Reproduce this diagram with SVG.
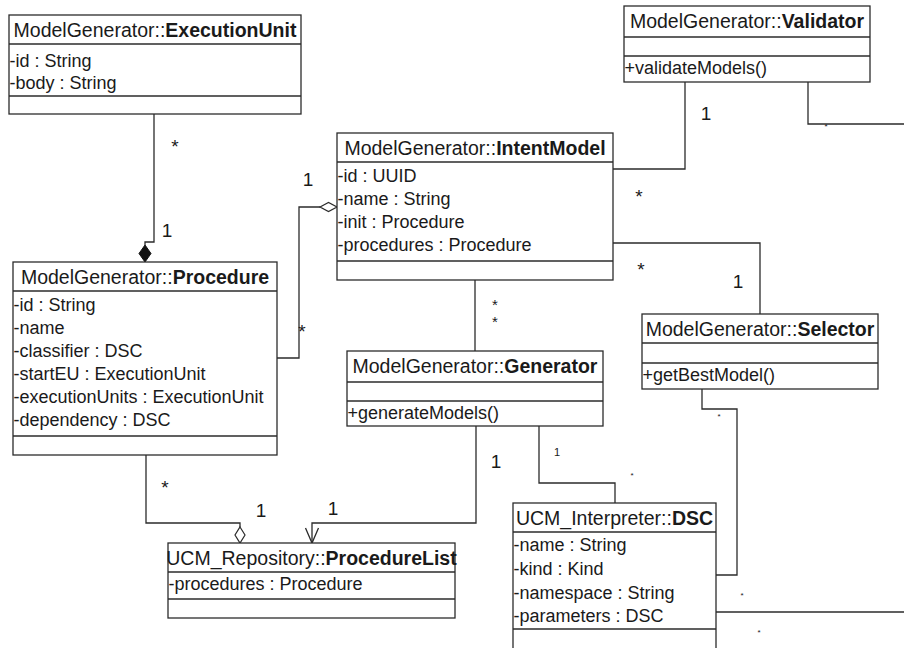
<svg xmlns="http://www.w3.org/2000/svg" width="904" height="648" viewBox="0 0 904 648">
  <style>
    .box { fill: #ffffff; stroke: #2b2b2b; stroke-width: 1.3; }
    .sep { stroke: #2b2b2b; stroke-width: 1.3; fill: none; }
    .wire { stroke: #2b2b2b; stroke-width: 1.3; fill: none; }
    text { font-family: "Liberation Sans", Arial, sans-serif; fill: #1a1a1a; }
    .hdr { font-size: 19.5px; text-anchor: middle; }
    .hdr .b { font-weight: bold; }
    .attr { font-size: 18px; }
    .lbl { font-size: 19px; text-anchor: middle; }
    .star { font-size: 19px; text-anchor: middle; }
    .star2 { font-size: 15px; text-anchor: middle; }
    .small { font-size: 11px; text-anchor: middle; }
    .tiny { font-size: 8px; text-anchor: middle; }
    .hollow { fill: #ffffff; stroke: #2b2b2b; stroke-width: 1.2; }
    .solid { fill: #111111; stroke: #111111; stroke-width: 1; }
  </style>

  <!-- connectors -->
  <g id="connectors">
    <!-- ExecutionUnit to Procedure (composition) -->
    <path class="wire" d="M154 114 V242 H145 V245"/>
    <polygon class="solid" points="145,245 151,253.5 145,262 139,253.5"/>
    <text class="star" x="175" y="153">*</text>
    <text class="lbl" x="167" y="237">1</text>

    <!-- Procedure to IntentModel (aggregation) -->
    <path class="wire" d="M277 358 H299 V207 H320"/>
    <polygon class="hollow" points="320,207 328.5,202.5 337,207 328.5,211.5"/>
    <text class="lbl" x="308" y="186">1</text>
    <text class="star" x="302" y="338">*</text>

    <!-- IntentModel to Validator -->
    <path class="wire" d="M613 169 H685 V82"/>
    <text class="lbl" x="706" y="120">1</text>
    <text class="star" x="639" y="203">*</text>

    <!-- IntentModel to Selector -->
    <path class="wire" d="M613 243 H760 V314"/>
    <text class="star" x="641" y="276">*</text>
    <text class="lbl" x="738" y="288">1</text>

    <!-- IntentModel to Generator -->
    <path class="wire" d="M475 280 V351"/>
    <text class="star2" x="495" y="310">*</text>
    <text class="star2" x="495" y="327">*</text>

    <!-- Generator to ProcedureList (navigable) -->
    <path class="wire" d="M476 426 V523 H312 V543"/>
    <path class="wire" d="M305.5 528 L312 543 L318.5 528"/>
    <text class="lbl" x="496" y="468">1</text>
    <text class="lbl" x="333" y="515">1</text>

    <!-- Procedure to ProcedureList (aggregation) -->
    <path class="wire" d="M146 455 V523 H240 V527"/>
    <polygon class="hollow" points="240,527 245,535 240,543 235,535"/>
    <text class="star" x="165" y="494">*</text>
    <text class="lbl" x="261" y="517">1</text>

    <!-- Generator to DSC -->
    <path class="wire" d="M539 426 V483 H615 V503"/>
    <text class="small" x="557" y="456">1</text>
    <text class="tiny" x="632" y="478">*</text>

    <!-- Selector to DSC -->
    <path class="wire" d="M702 389 V409 H737 V575 H716"/>
    <text class="tiny" x="719" y="419">*</text>

    <!-- Validator, outgoing -->
    <path class="wire" d="M808 82 V124 H904"/>
    <text class="tiny" x="826" y="129">*</text>

    <!-- DSC, outgoing -->
    <path class="wire" d="M716 612 H904"/>
    <text class="tiny" x="742" y="598">*</text>
    <text class="tiny" x="759" y="635">*</text>
  </g>

  <!-- ExecutionUnit -->
  <g id="execution-unit">
    <rect class="box" x="9" y="15" width="292" height="99"/>
    <line class="sep" x1="9" y1="44" x2="301" y2="44"/>
    <line class="sep" x1="9" y1="96" x2="301" y2="96"/>
    <text class="hdr" x="155" y="37">ModelGenerator::<tspan class="b">ExecutionUnit</tspan></text>
    <text class="attr" x="9.5" y="67">-id : String</text>
    <text class="attr" x="9.5" y="89">-body : String</text>
  </g>

  <!-- Validator -->
  <g id="validator">
    <rect class="box" x="624" y="6" width="246" height="76"/>
    <line class="sep" x1="624" y1="37" x2="870" y2="37"/>
    <line class="sep" x1="624" y1="56" x2="870" y2="56"/>
    <text class="hdr" x="747" y="28">ModelGenerator::<tspan class="b">Validator</tspan></text>
    <text class="attr" x="624.5" y="74">+validateModels()</text>
  </g>

  <!-- IntentModel -->
  <g id="intent-model">
    <rect class="box" x="337" y="133" width="276" height="147"/>
    <line class="sep" x1="337" y1="162" x2="613" y2="162"/>
    <line class="sep" x1="337" y1="261" x2="613" y2="261"/>
    <text class="hdr" x="475" y="155">ModelGenerator::<tspan class="b">IntentModel</tspan></text>
    <text class="attr" x="337.5" y="182">-id : UUID</text>
    <text class="attr" x="337.5" y="205">-name : String</text>
    <text class="attr" x="337.5" y="228">-init : Procedure</text>
    <text class="attr" x="337.5" y="251">-procedures : Procedure</text>
  </g>

  <!-- Procedure -->
  <g id="procedure">
    <rect class="box" x="13" y="262" width="264" height="193"/>
    <line class="sep" x1="13" y1="291" x2="277" y2="291"/>
    <line class="sep" x1="13" y1="436" x2="277" y2="436"/>
    <text class="hdr" x="145" y="284">ModelGenerator::<tspan class="b">Procedure</tspan></text>
    <text class="attr" x="13.5" y="311">-id : String</text>
    <text class="attr" x="13.5" y="334">-name</text>
    <text class="attr" x="13.5" y="357">-classifier : DSC</text>
    <text class="attr" x="13.5" y="380">-startEU : ExecutionUnit</text>
    <text class="attr" x="13.5" y="403">-executionUnits : ExecutionUnit</text>
    <text class="attr" x="13.5" y="426">-dependency : DSC</text>
  </g>

  <!-- Generator -->
  <g id="generator">
    <rect class="box" x="347" y="351" width="256" height="75"/>
    <line class="sep" x1="347" y1="382" x2="603" y2="382"/>
    <line class="sep" x1="347" y1="401" x2="603" y2="401"/>
    <text class="hdr" x="475" y="373">ModelGenerator::<tspan class="b">Generator</tspan></text>
    <text class="attr" x="347.5" y="419">+generateModels()</text>
  </g>

  <!-- Selector -->
  <g id="selector">
    <rect class="box" x="642" y="314" width="236" height="75"/>
    <line class="sep" x1="642" y1="343" x2="878" y2="343"/>
    <line class="sep" x1="642" y1="363" x2="878" y2="363"/>
    <text class="hdr" x="760" y="336">ModelGenerator::<tspan class="b">Selector</tspan></text>
    <text class="attr" x="642.5" y="381">+getBestModel()</text>
  </g>

  <!-- ProcedureList -->
  <g id="procedure-list">
    <rect class="box" x="168" y="543" width="287" height="75"/>
    <line class="sep" x1="168" y1="572" x2="455" y2="572"/>
    <line class="sep" x1="168" y1="599" x2="455" y2="599"/>
    <text class="hdr" x="311.5" y="565">UCM_Repository::<tspan class="b">ProcedureList</tspan></text>
    <text class="attr" x="168.5" y="590">-procedures : Procedure</text>
  </g>

  <!-- DSC -->
  <g id="dsc">
    <rect class="box" x="513" y="503" width="203" height="160"/>
    <line class="sep" x1="513" y1="532" x2="716" y2="532"/>
    <line class="sep" x1="513" y1="629" x2="716" y2="629"/>
    <text class="hdr" x="614.5" y="525">UCM_Interpreter::<tspan class="b">DSC</tspan></text>
    <text class="attr" x="513.5" y="551">-name : String</text>
    <text class="attr" x="513.5" y="575">-kind : Kind</text>
    <text class="attr" x="513.5" y="599">-namespace : String</text>
    <text class="attr" x="513.5" y="622">-parameters : DSC</text>
  </g>
</svg>
